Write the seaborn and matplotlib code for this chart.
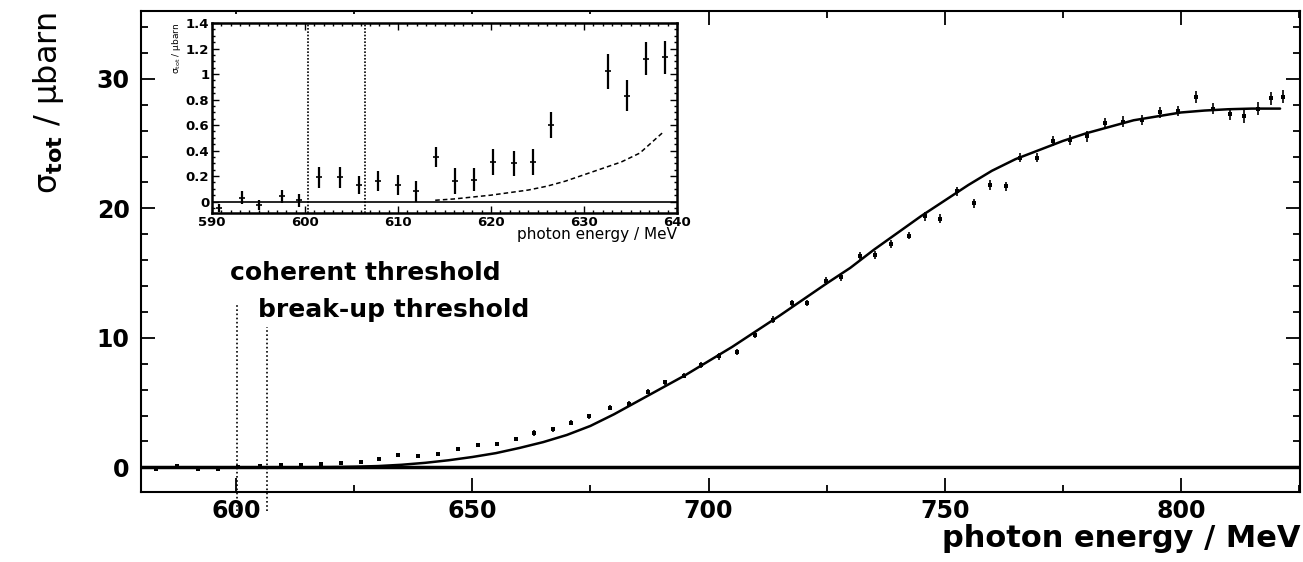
import numpy as np
import pandas as pd
import matplotlib
matplotlib.use("Agg")
import matplotlib.pyplot as plt
import seaborn as sns
from matplotlib.ticker import MultipleLocator

# ---------------- data ----------------
energy_main = [583.0, 587.5, 592.0, 596.2, 600.4, 605.1, 609.4, 613.7, 617.9, 622.1,
               626.4, 630.3, 634.2, 638.6, 642.8, 647.0, 651.1, 655.2, 659.2, 663.1,
               667.0, 670.9, 674.8, 679.1, 683.1, 687.1, 690.7, 694.9, 698.5, 702.3,
               706.1, 709.8, 713.7, 717.7, 720.8, 724.9, 728.0, 732.1, 735.3, 738.6,
               742.5, 745.8, 749.1, 752.6, 756.1, 759.5, 762.9, 766.0, 769.6, 773.0,
               776.5, 780.2, 784.0, 787.8, 791.7, 795.6, 799.4, 803.1, 806.7, 810.3,
               813.4, 816.3, 819.0, 821.7]
sigma_main = [-0.1, 0.1, -0.1, -0.1, 0.0, 0.12, 0.17, 0.2, 0.25, 0.3,
              0.4, 0.62, 0.98, 0.85, 1.0, 1.38, 1.75, 1.78, 2.2, 2.65,
              2.95, 3.45, 3.95, 4.6, 4.9, 5.84, 6.56, 7.08, 7.9, 8.56,
              8.9, 10.2, 11.4, 12.7, 12.7, 14.4, 14.7, 16.3, 16.4, 17.25,
              17.9, 19.4, 19.2, 21.3, 20.4, 21.8, 21.7, 23.9, 23.9, 25.2,
              25.3, 25.55, 26.6, 26.7, 26.8, 27.4, 27.5, 28.6, 27.7, 27.3,
              27.1, 27.7, 28.5, 28.6]
err_main = [0.1, 0.1, 0.1, 0.1, 0.1, 0.1, 0.1, 0.1, 0.1, 0.1,
            0.1, 0.15, 0.15, 0.15, 0.15, 0.15, 0.15, 0.15, 0.15, 0.2,
            0.2, 0.2, 0.2, 0.2, 0.2, 0.2, 0.2, 0.2, 0.2, 0.25,
            0.25, 0.25, 0.25, 0.25, 0.25, 0.3, 0.3, 0.3, 0.3, 0.3,
            0.3, 0.35, 0.35, 0.35, 0.35, 0.35, 0.35, 0.35, 0.35, 0.4,
            0.4, 0.4, 0.4, 0.4, 0.4, 0.4, 0.4, 0.45, 0.45, 0.45,
            0.5, 0.5, 0.5, 0.5]

fit_energy = [578, 600, 610, 620, 625, 630, 635, 640, 645, 650, 655, 660, 665, 670,
              675, 680, 685, 690, 695, 700, 705, 710, 715, 720, 725, 730, 735, 740,
              745, 750, 755, 760, 765, 770, 775, 780, 785, 790, 795, 800, 805, 810,
              815, 821]
fit_sigma = [0.0, 0.0, 0.0, 0.02, 0.05, 0.1, 0.2, 0.35, 0.55, 0.8, 1.1, 1.5, 1.95, 2.5,
             3.2, 4.1, 5.1, 6.1, 7.1, 8.2, 9.3, 10.5, 11.7, 12.95, 14.2, 15.4, 16.8, 18.1,
             19.4, 20.6, 21.8, 22.9, 23.8, 24.5, 25.2, 25.8, 26.3, 26.8, 27.1, 27.4, 27.55, 27.65,
             27.7, 27.7]

thresholds = [600.2, 606.6]
threshold_labels = ["coherent threshold", "break-up threshold"]

energy_inset = [590.8, 593.2, 595.0, 597.5, 599.4, 601.5, 603.8, 605.8, 607.9, 610.0,
                611.9, 614.1, 616.1, 618.2, 620.2, 622.5, 624.5, 626.4, 632.6, 634.6,
                636.7, 638.7]
sigma_inset = [-0.05, 0.03, -0.03, 0.04, 0.01, 0.19, 0.19, 0.13, 0.16, 0.13,
               0.08, 0.35, 0.16, 0.17, 0.31, 0.30, 0.31, 0.60, 1.02, 0.83,
               1.12, 1.13]
err_inset = [0.03, 0.05, 0.04, 0.05, 0.05, 0.08, 0.08, 0.07, 0.08, 0.08,
             0.08, 0.08, 0.1, 0.09, 0.1, 0.1, 0.1, 0.1, 0.14, 0.12,
             0.13, 0.13]
fit_inset_energy = [614, 616, 618, 620, 622, 624, 626, 628, 630, 632, 634, 636, 638.6]
fit_inset_sigma = [0.01, 0.02, 0.035, 0.05, 0.07, 0.09, 0.12, 0.16, 0.21, 0.26, 0.31, 0.38, 0.55]
inset_thresholds = [600.3, 606.5]

# ---------------- style ----------------
sns.set_theme(style="ticks")
plt.rcParams['font.family'] = ['DejaVu Sans']
plt.rcParams['axes.linewidth'] = 1.5
for k in ['text.color', 'axes.labelcolor', 'xtick.color', 'ytick.color', 'axes.edgecolor']:
    plt.rcParams[k] = 'black'

fig = plt.figure(figsize=(13.03, 5.62), dpi=100)
ax = fig.add_axes([0.108, 0.1246, 0.890, 0.855])

df_fit = pd.DataFrame({"E": fit_energy, "s": fit_sigma})
sns.lineplot(data=df_fit, x="E", y="s", ax=ax, color="black", lw=1.8)
ax.errorbar(energy_main, sigma_main, yerr=err_main, fmt="none", ecolor="black", elinewidth=1.2)
df_main = pd.DataFrame({"E": energy_main, "s": sigma_main})
sns.scatterplot(data=df_main, x="E", y="s", ax=ax, color="black", marker="s", s=10, linewidth=0)
ax.axhline(0, color="black", lw=2.5)

ax.set_xlim(579.8, 825.3)
ax.set_ylim(-1.9, 35.2)

tops = [12.6, 10.8]
for xv, top in zip(thresholds, tops):
    ax.plot([xv, xv], [-3.4, top], color="black", ls=(0, (1, 1.5)), lw=1.2, clip_on=False)
ax.text(598.7, 15.0, threshold_labels[0], fontsize=18, fontweight="bold", va="center", ha="left")
ax.text(604.7, 12.15, threshold_labels[1], fontsize=18, fontweight="bold", va="center", ha="left")

ax.xaxis.set_major_locator(MultipleLocator(50))
ax.xaxis.set_minor_locator(MultipleLocator(25))
ax.yaxis.set_major_locator(MultipleLocator(10))
ax.yaxis.set_minor_locator(MultipleLocator(2))
ax.tick_params(which="both", direction="in", top=True, right=True, width=1.3, color="black")
ax.tick_params(which="major", length=10, labelsize=17, pad=8)
ax.tick_params(axis="x", which="major", pad=5)
ax.tick_params(which="minor", length=5)
for lab in ax.get_xticklabels() + ax.get_yticklabels():
    lab.set_fontweight("bold")
ax.set_xlabel("photon energy / MeV", fontsize=22, fontweight="bold", loc="right", labelpad=1)
ax.set_ylabel(r"σ$_{\mathbf{tot}}$ / μbarn", fontsize=23, loc="top", labelpad=22)

# ---------------- inset ----------------
bg = plt.Rectangle((0.124, 0.555), 0.408, 0.42, transform=fig.transFigure,
                   facecolor="white", edgecolor="none", zorder=2)
fig.patches.append(bg)
axi = fig.add_axes([0.1627, 0.621, 0.3569, 0.338])
axi.set_zorder(3)
axi.errorbar(energy_inset, sigma_inset, yerr=err_inset, fmt="none", ecolor="black", elinewidth=1.6)
df_in = pd.DataFrame({"E": energy_inset, "s": sigma_inset})
sns.scatterplot(data=df_in, x="E", y="s", ax=axi, color="black", marker="_", s=14, linewidth=1.2)
df_fin = pd.DataFrame({"E": fit_inset_energy, "s": fit_inset_sigma})
sns.lineplot(data=df_fin, x="E", y="s", ax=axi, color="black", lw=1.1, ls=(0, (3, 2)))
axi.axhline(0, color="black", lw=1.2)
for xv in inset_thresholds:
    axi.axvline(xv, color="black", ls=(0, (1, 1)), lw=1.2)
axi.set_xlim(590, 640)
axi.set_ylim(-0.09, 1.4)
axi.xaxis.set_major_locator(MultipleLocator(10))
axi.xaxis.set_minor_locator(MultipleLocator(1))
axi.yaxis.set_minor_locator(MultipleLocator(0.05))
axi.set_yticks([0, 0.2, 0.4, 0.6, 0.8, 1.0, 1.2, 1.4])
axi.set_yticklabels(["0", "0.2", "0.4", "0.6", "0.8", "1", "1.2", "1.4"])
axi.tick_params(which="both", direction="in", top=True, right=True, color="black", width=1.0)
axi.tick_params(which="major", length=5, labelsize=9.5, pad=2)
axi.tick_params(which="minor", length=2.5)
for lab in axi.get_xticklabels() + axi.get_yticklabels():
    lab.set_fontweight("bold")
axi.set_xlabel("photon energy / MeV", fontsize=11, loc="right", labelpad=-1)
axi.set_ylabel(r"σ$_{\rm tot}$ / μbarn", fontsize=6.5, loc="top", labelpad=2)
for sp in axi.spines.values():
    sp.set_color("black")
    sp.set_linewidth(1.8)

fig.savefig("out.png", dpi=100)
